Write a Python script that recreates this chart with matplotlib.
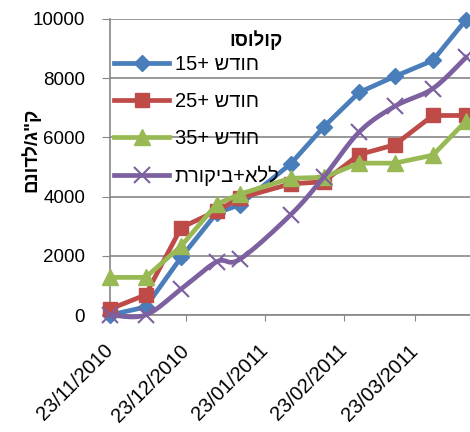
import datetime as dt
import numpy as np
import matplotlib
matplotlib.use("Agg")
import matplotlib.pyplot as plt
import matplotlib.dates as mdates

plt.rcParams['font.family'] = ['Liberation Sans', 'DejaVu Sans']

# sampling dates
dates = ["23/11/2010", "07/12/2010", "21/12/2010", "04/01/2011", "13/01/2011",
         "02/02/2011", "15/02/2011", "01/03/2011", "15/03/2011", "30/03/2011",
         "12/04/2011"]

# kg per dunam, one list per treatment
month15 = [0, 270, 1950, 3450, 3720, 5100, 6350, 7520, 8060, 8600, 9970]
month25 = [200, 680, 2950, 3520, 3950, 4430, 4500, 5420, 5750, 6740, 6740]
month35 = [1270, 1270, 2330, 3750, 4080, 4620, 4650, 5130, 5130, 5400, 6550]
no_control = [0, 0, 880, 1800, 1880, 3380, 4650, 6180, 7050, 7650, 8700]

labels = ["חודש +15", "חודש +25", "חודש +35", "ללא+ביקורת"]
title = "קולוסו"
ylabel = 'ק"ג/לדונם'


def vis(s):
    # matplotlib has no bidi: hand it the glyphs in visual order
    out, num = [], ""
    for ch in s:
        if ch.isdigit():
            num += ch
        else:
            if num:
                out.append(num)
                num = ""
            out.append(ch)
    if num:
        out.append(num)
    return "".join(out[::-1])


def smooth(x, y, n=24):
    # Catmull-Rom, like Excel's "smoothed line"
    p = np.column_stack([x, y]).astype(float)
    p = np.vstack([p[0], p, p[-1]])
    xs, ys = [], []
    t = np.linspace(0, 1, n)
    for i in range(1, len(p) - 2):
        p0, p1, p2, p3 = p[i - 1], p[i], p[i + 1], p[i + 2]
        m1, m2 = (p2 - p0) / 2, (p3 - p1) / 2
        h00 = 2 * t**3 - 3 * t**2 + 1
        h10 = t**3 - 2 * t**2 + t
        h01 = -2 * t**3 + 3 * t**2
        h11 = t**3 - t**2
        seg = (h00[:, None] * p1 + h10[:, None] * m1 + h01[:, None] * p2
               + h11[:, None] * m2)
        xs.extend(seg[:, 0])
        ys.extend(seg[:, 1])
    return np.array(xs), np.array(ys)


x = mdates.date2num([dt.datetime.strptime(d, "%d/%m/%Y") for d in dates])

fig = plt.figure(figsize=(4.70, 4.32), dpi=100)
ax = fig.add_axes([110 / 470, 117 / 432, 361 / 470, 296 / 432])

gray = "#868686"
lw = 3.4
ax.plot(x, month15, color="#4A7EBB", lw=lw, marker="D", ms=8.5,
        clip_on=False, label=vis(labels[0]), zorder=3)
ax.plot(x, month25, color="#BE4B48", lw=lw, marker="s", ms=10,
        clip_on=False, label=vis(labels[1]), zorder=4)
ax.plot(x, month35, color="#98B954", lw=lw, marker="^", ms=11,
        clip_on=False, label=vis(labels[2]), zorder=5)
sx, sy = smooth(x, no_control)
ax.plot(sx, sy, color="#7D60A0", lw=lw, clip_on=False, zorder=6)
ax.plot(x, no_control, ls="none", marker="x", ms=12, mew=1.5,
        color="#7D60A0", clip_on=False, zorder=6)
ax.plot([], [], color="#7D60A0", lw=lw, marker="x", ms=12, mew=1.5,
        label=vis(labels[3]))

ax.set_ylim(0, 10000)
ax.set_yticks(np.arange(0, 10001, 2000))
start = mdates.date2num(dt.datetime(2010, 11, 23))
ax.set_xlim(start, start + 142)
ax.xaxis.set_major_locator(mdates.MonthLocator(bymonthday=23))
ax.xaxis.set_major_formatter(mdates.DateFormatter("%d/%m/%Y"))

ax.grid(axis="y", color=gray, lw=1.2)
ax.set_axisbelow(True)
for s in ["top", "right"]:
    ax.spines[s].set_visible(False)
for s in ["left", "bottom"]:
    ax.spines[s].set_color(gray)
    ax.spines[s].set_linewidth(1.2)

ax.tick_params(axis="y", length=6, color=gray, labelsize=13.5, pad=12)
ax.tick_params(axis="x", length=4.5, color=gray, labelsize=14.5, pad=19)
for lab in ax.get_xticklabels():
    lab.set_rotation(45)
    lab.set_rotation_mode("anchor")
    lab.set_ha("right")
    lab.set_va("center")

fig.text(31 / 470, 1 - 150 / 432, vis(ylabel), rotation=90, ha="center",
         va="center", fontsize=13.5, fontweight="bold")

fig.text(256 / 470, 1 - 40 / 432, vis(title), fontsize=13.5,
         fontweight="bold", ha="center", va="center")

ax.legend(loc="upper left", bbox_to_anchor=(0.012, 0.877), frameon=False,
          fontsize=14.5, handlelength=2.7, handletextpad=0.3,
          labelspacing=0.88, borderpad=0, borderaxespad=0)

fig.savefig("out.png", dpi=100)
